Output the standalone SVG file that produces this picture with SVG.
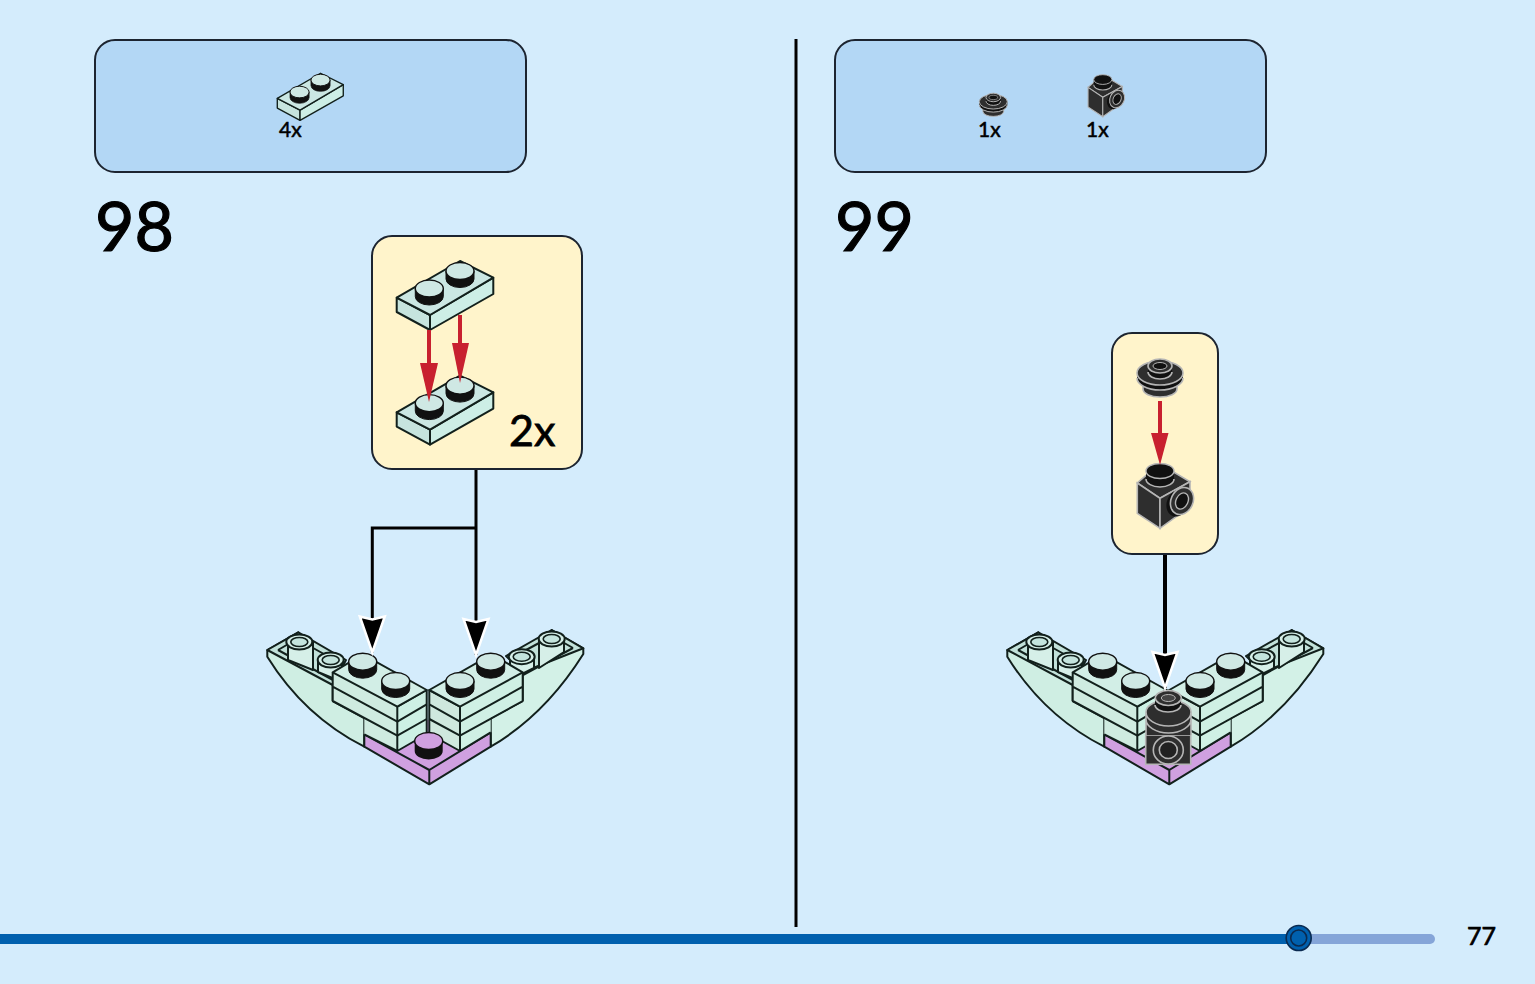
<svg xmlns="http://www.w3.org/2000/svg" width="1535" height="984" viewBox="0 0 1535 984">
<style>
.panel{fill:#b3d7f5;stroke:#1c2430;stroke-width:2}
.call{fill:#fff4cb;stroke:#1c2430;stroke-width:2}
.t{font-family:"Lato","Liberation Sans",sans-serif;fill:#000;stroke:#000}
.ln{fill:none;stroke:#12201c;stroke-width:2;stroke-linejoin:round}
.f{stroke:#12201c;stroke-width:2;stroke-linejoin:round}
.conn{fill:none;stroke:#000;stroke-width:3}
.red{fill:none;stroke:#c8202f;stroke-width:4}
.rh{fill:#c8202f}
.g{fill:none;stroke:#b5b5b5;stroke-width:1.6}
.d{fill:#2e2e2e;stroke:#b5b5b5;stroke-width:1.6}
.k{fill:#111}
</style>
<defs>
<marker id="ah" markerUnits="userSpaceOnUse" markerWidth="44" markerHeight="36" viewBox="-5 -18 44 36" refX="36" refY="0" orient="auto">
<path d="M0,-12.500L3,0L0,12.500L36,0Z" fill="#000" stroke="#fff" stroke-width="2.500"/>
</marker>
<g id="stud">
<path d="M-14,0v8a14,8.500 0 0 0 28,0V0Z" fill="#111" stroke="#111" stroke-width="1"/>
<ellipse rx="14" ry="8.500" fill="#cfe8e4" stroke="#111" stroke-width="1.400"/>
</g>
<g id="plate">
<polygon class="f" points="396.700,297.700 430,315 430,330 396.700,312" fill="#c6e4de"/>
<polygon class="f" points="430,315 493.300,277.700 493.300,294 430,330" fill="#cdeee6"/>
<polygon class="f" points="396.700,297.700 460,261 493.300,277.700 430,315" fill="#cbe7e3"/>
<use href="#stud" x="429.300" y="288.500"/>
<use href="#stud" x="460" y="271"/>
</g>
<g id="roundp">
<path class="d" d="M1143,383v6a17,8 0 0 0 34,0v-6z"/>
<path class="k" d="M1137,373v5a23,12 0 0 0 46,0v-5z"/>
<path class="g" d="M1137,378a23,12 0 0 0 46,0"/>
<ellipse class="d" cx="1160" cy="373" rx="23" ry="12"/>
<path class="k" d="M1148,366v6a12,7 0 0 0 24,0v-6z"/>
<path class="g" d="M1148,372a12,7 0 0 0 24,0"/>
<ellipse class="d" cx="1160" cy="366" rx="12" ry="7"/>
<ellipse cx="1160" cy="366" rx="7" ry="3.500" fill="#111" stroke="#b5b5b5"/>
</g>
<g id="brick">
<path class="d" d="M1137.300,483L1160,498.300L1190,481.700L1167,468L1150,472Z"/>
<path class="d" d="M1137.300,483L1160,498.300V528.300L1137.300,513.300Z"/>
<path class="d" d="M1160,498.300L1190,481.700V506.700L1160,528.300Z"/>
<path class="k" d="M1146,471v8a14,8 0 0 0 28,0v-8z"/>
<path class="g" d="M1146,479a14,8 0 0 0 28,0"/>
<ellipse cx="1160" cy="471" rx="14" ry="7.500" fill="#111" stroke="#b5b5b5" stroke-width="1.400"/>
<ellipse class="k" cx="1178" cy="503" rx="11" ry="14" transform="rotate(25 1178 503)"/>
<ellipse class="d" cx="1182" cy="501" rx="11" ry="14" transform="rotate(25 1182 501)"/>
<ellipse cx="1182" cy="501" rx="6" ry="8.500" fill="#111" stroke="#b5b5b5" stroke-width="1.400" transform="rotate(25 1182 501)"/>
</g>
<g id="hollow">
<ellipse rx="13" ry="7.500" fill="#d6efe8" stroke="#12201c" stroke-width="2"/>
<ellipse rx="8.500" ry="4.500" fill="#c4e4dd" stroke="#12201c" stroke-width="1.600"/>
</g>
<g id="wing">
<path class="f" fill="#cfeee3" d="M267.300,650V656.700Q304,716 364.300,746.700V718L332.700,701V672L298.300,632.300Z"/>
<path class="f" fill="#d3f1e7" d="M583.300,648.300V654Q545,715 490.700,746.700V718L522.700,701V672L551.700,630Z"/>
<polygon class="f" fill="#c2e2da" points="267.300,650 298.300,632.300 346,660 332.700,685"/>
<polygon class="f" fill="#c2e2da" points="583.300,648.300 551.700,630 506,656 523,672"/>
<path class="ln" d="M278,650L297,639L340,663M278,650L333,680M573,648L552,636L515,656M573,648L523,675"/>
<path class="f" fill="#d6efe8" d="M288,642H313V670L288,660Z"/>
<path class="f" fill="#d6efe8" d="M318,660H342V682L318,672Z"/>
<path class="f" fill="#d6efe8" d="M539,639H564V652L539,668Z"/>
<path class="f" fill="#d6efe8" d="M510,657H534V668L510,680Z"/>
<use href="#hollow" x="299.300" y="642"/>
<use href="#hollow" x="330.700" y="660"/>
<use href="#hollow" x="551.700" y="639"/>
<use href="#hollow" x="521.700" y="656.700"/>
<polygon fill="#d0a0e0" points="364.300,734.300 397.300,720 460,720 490.700,732.300 490.700,746.700 429.300,784.300 364.300,746.700"/>
<path class="ln" d="M364.300,734.300V746.700L429.300,784.300L490.700,746.700V732.300M364.300,734.300L429.300,770L490.700,732.300M429.300,770V784.300"/>
<polygon fill="#cfebe0" points="332.700,672.300 397.300,706.700 397.300,751 364.300,734.300 364.300,718 332.700,701"/>
<polygon fill="#cff0e4" points="460,706.700 522.700,672.300 522.700,701 490.700,718 490.700,732.300 460,751"/>
<polygon class="f" fill="#cdf0e4" points="397.300,706.700 426.700,690 426.700,734 397.300,751"/>
<polygon class="f" fill="#d2eee6" points="332.700,672.300 362.700,654.300 426.700,690 397.300,706.700"/>
<polygon class="f" fill="#cfe8de" points="429.300,690 460,706.700 460,751 429.300,734"/>
<polygon class="f" fill="#d2eee6" points="429.300,690 491.700,654.300 522.700,672.300 460,706.700"/>
<path class="ln" d="M332.700,672.300V701M522.700,672.300V701M364.300,734.300L397.300,751M490.700,732.300L460,751M332.700,686.700L397.300,721.700L426.700,704.300M332.700,701L397.300,735.700L426.700,719M429.300,704.300L460,721.700L522.700,686.700M429.300,719L460,735.700L522.700,701"/>
<use href="#stud" x="362.700" y="661.700"/>
<use href="#stud" x="395.700" y="681"/>
<use href="#stud" x="490.700" y="661.700"/>
<use href="#stud" x="460" y="681"/>
</g>
</defs>
<rect width="1535" height="984" fill="#d4ecfc"/>
<rect id="progress-track" x="1290" y="934" width="145" height="10" rx="5" fill="#85a5d8"/>
<rect id="progress-fill" x="0" y="934" width="1298" height="10" fill="#0060ae"/>
<g id="progress-knob">
<circle cx="1298.700" cy="938" r="12.500" fill="#0060ae" stroke="#0a2a50" stroke-width="1.600"/>
<circle cx="1298.700" cy="938" r="8" fill="#0060ae" stroke="#0a2a50" stroke-width="1.600"/>
</g>
<text class="t" x="1467" y="945" font-size="25" stroke-width=".7" id="page-number">77</text>
<line id="divider" x1="796" y1="39" x2="796" y2="927" stroke="#000" stroke-width="3"/>

<g id="parts-98">
<rect class="panel" x="95" y="40" width="431" height="132" rx="20"/>
<use href="#plate" transform="translate(6.350 -105) scale(.683)"/>
<text class="t" x="279" y="137" font-size="21" stroke-width=".5">4x</text>
</g>
<g id="parts-99">
<rect class="panel" x="835" y="40" width="431" height="132" rx="20"/>
<use href="#roundp" transform="translate(285.700 -125.800) scale(.61)"/>
<use href="#brick" transform="translate(348.800 -226.600) scale(.65)"/>
<text class="t" x="978" y="137" font-size="21" stroke-width=".5">1x</text>
<text class="t" x="1086" y="137" font-size="21" stroke-width=".5">1x</text>
</g>
<text id="step-98" class="t" x="95" y="251" font-size="68" stroke-width="1.200">98</text>
<text id="step-99" class="t" x="835" y="251" font-size="68" stroke-width="1.200">99</text>

<g id="callout-98">
<rect class="call" x="372" y="236" width="210" height="233" rx="20"/>
<use href="#plate" y="114.600"/>
<use href="#plate"/>
<path class="red" d="M429,330V370M460,315V350"/>
<polygon class="rh" points="420,363 438,363 429,402"/>
<polygon class="rh" points="452,343 469,343 460,383"/>
<text class="t" x="509" y="446" font-size="43" stroke-width=".8">2x</text>
</g>
<g id="callout-99">
<rect class="call" x="1112" y="333" width="106" height="221" rx="20"/>
<use href="#brick"/>
<use href="#roundp"/>
<path class="red" d="M1160,401V440"/>
<polygon class="rh" points="1151,433 1168.500,433 1160,465"/>
</g>
<g id="model-98">
<use href="#wing"/>
<path d="M414.700,741v10a14,8.500 0 0 0 28,0v-10z" fill="#111"/>
<ellipse cx="428.700" cy="741" rx="14" ry="8.500" fill="#d0a0e0" stroke="#111" stroke-width="1.400"/>
</g>
<g id="model-99">
<use href="#wing" x="740"/>
<g id="model-99-black">
<rect class="d" x="1145.700" y="735" width="45" height="29.300"/>
<path fill="#2e2e2e" d="M1146,712V735H1191V712A22.500,12 0 0 0 1146,712Z"/>
<path class="g" d="M1146,712a22.500,14 0 0 0 45,0M1146,712a22.500,12 0 0 1 45,0M1146,719a22.500,14 0 0 0 45,0M1146,712V735M1191,712V735"/>
<path class="k" d="M1155,698v7a13,7 0 0 0 26,0v-7z"/>
<path class="g" d="M1155,705a13,7 0 0 0 26,0"/>
<ellipse class="d" cx="1168.300" cy="698" rx="13" ry="7.500"/>
<ellipse cx="1168.300" cy="698" rx="7" ry="3.500" fill="#444" stroke="#b5b5b5"/>
<ellipse class="d" cx="1168.300" cy="750" rx="15" ry="14"/>
<ellipse cx="1168.300" cy="750" rx="9" ry="8.500" fill="#222" stroke="#b5b5b5" stroke-width="1.600"/>
</g>
</g>
<g id="connectors">
<path class="conn" d="M476,470V655" marker-end="url(#ah)"/>
<path class="conn" d="M476,528H372.300V652.500" marker-end="url(#ah)"/>
<path class="conn" style="stroke-width:4" d="M1165,555V688" marker-end="url(#ah)"/>
</g>
</svg>
